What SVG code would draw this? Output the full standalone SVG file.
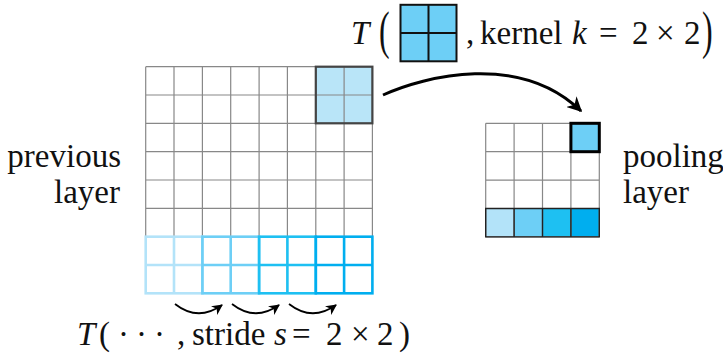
<svg xmlns="http://www.w3.org/2000/svg" width="723" height="361" viewBox="0 0 723 361">
<defs>
<style>
.g{stroke:#888;stroke-width:1.2;fill:none}
.c1{stroke:#b3e3f9}
.c2{stroke:#6dcff6}
.c3{stroke:#1ec0f2}
.c4{stroke:#00aeef}
.blk{fill:none;stroke-width:2.6}
.arr{fill:none;stroke:#000}
</style>
<marker id="ah" viewBox="0 0 10 10" refX="9" refY="5" markerWidth="5" markerHeight="5" orient="auto" markerUnits="strokeWidth">
<path d="M0,0 L10,5 L0,10 L3,5 Z" fill="#000"/>
</marker>
<marker id="ahs" viewBox="0 0 10 10" refX="9" refY="5" markerWidth="6" markerHeight="6" orient="auto" markerUnits="strokeWidth">
<path d="M0,0 L10,5 L0,10 L3,5 Z" fill="#000"/>
</marker>
</defs>
<rect width="723" height="361" fill="#fff"/>

<g id="previous-layer">
<rect x="315.8" y="66.7" width="56.7" height="56.6" fill="#b9e5f8"/>
<path class="g" d="M145.7,66.7H372.4M145.7,95H372.4M145.7,123.3H372.4M145.7,151.7H372.4M145.7,180H372.4M145.7,208.3H372.4M145.7,236.7H372.4M145.7,265H372.4M145.7,293.3H372.4
M145.7,66.7V293.3M174,66.7V293.3M202.4,66.7V293.3M230.7,66.7V293.3M259.1,66.7V293.3M287.4,66.7V293.3M315.8,66.7V293.3M344.1,66.7V293.3M372.4,66.7V293.3"/>
<rect x="315.8" y="66.7" width="56.6" height="56.6" fill="none" stroke="#444" stroke-width="2.2"/>
<g class="blk c1"><rect x="145.7" y="236.7" width="56.7" height="56.6"/><path d="M174,236.7V293.3M145.7,265H202.4"/></g>
<g class="blk c2"><rect x="202.4" y="236.7" width="56.7" height="56.6"/><path d="M230.7,236.7V293.3M202.4,265H259.1"/></g>
<g class="blk c3"><rect x="259.1" y="236.7" width="56.7" height="56.6"/><path d="M287.4,236.7V293.3M259.1,265H315.8"/></g>
<g class="blk c4"><rect x="315.8" y="236.7" width="56.6" height="56.6"/><path d="M344.1,236.7V293.3M315.8,265H372.4"/></g>
</g>

<g id="pooling-layer">
<rect x="485.7" y="208.5" width="28.4" height="28.4" fill="#b3e3f9"/>
<rect x="514.1" y="208.5" width="28.4" height="28.4" fill="#6dcff6"/>
<rect x="542.5" y="208.5" width="28.4" height="28.4" fill="#1ec0f2"/>
<rect x="570.9" y="208.5" width="28.4" height="28.4" fill="#00aeef"/>
<rect x="570.9" y="123.3" width="28.4" height="28.4" fill="#6dcff6"/>
<path class="g" d="M485.7,123.3H599.3M485.7,151.7H599.3M485.7,180.1H599.3M485.7,208.5H599.3M485.7,236.9H599.3
M485.7,123.3V236.9M514.1,123.3V236.9M542.5,123.3V236.9M570.9,123.3V236.9M599.3,123.3V236.9"/>
<path d="M485.7,208.5H599.3V236.9H485.7Z M514.1,208.5V236.9M542.5,208.5V236.9M570.9,208.5V236.9" fill="none" stroke="#222" stroke-width="1.4"/>
<rect x="570.9" y="123.3" width="28.4" height="28.4" fill="none" stroke="#000" stroke-width="3"/>
</g>

<g id="kernel-icon">
<rect x="400.5" y="4.8" width="56" height="56.5" fill="#6dcff6" stroke="#111" stroke-width="2"/>
<path d="M428.5,4.8V61.3M400.5,33H456.5" stroke="#111" stroke-width="2"/>
</g>

<g id="connectors">
<path class="arr" stroke-width="3" d="M383,95 C425,76 520,52 581,111" marker-end="url(#ah)"/>
<path class="arr" stroke-width="1.8" d="M175,304 Q198,322 222,305" marker-end="url(#ahs)"/>
<path class="arr" stroke-width="1.8" d="M232,304 Q255,322 279,305" marker-end="url(#ahs)"/>
<path class="arr" stroke-width="1.8" d="M289,304 Q312,322 336,305" marker-end="url(#ahs)"/>
</g>

<g id="labels" fill="#111">
<text font-family="Liberation Serif" font-size="33" x="121" y="167" text-anchor="end">previous</text>
<text font-family="Liberation Serif" font-size="33" x="120" y="203" text-anchor="end">layer</text>
<text font-family="Liberation Serif" font-size="33" x="623" y="167">pooling</text>
<text font-family="Liberation Serif" font-size="33" x="623" y="203">layer</text>

<text font-family="Liberation Serif" font-size="33" font-style="italic" x="351" y="44">T</text>
<text font-family="Liberation Serif" font-size="40" transform="translate(379,48) scale(0.8,1.3)">(</text>
<text font-family="Liberation Serif" font-size="33" x="466" y="44">,</text>
<text font-family="Liberation Serif" font-size="33" x="480" y="44">kernel</text>
<text font-family="Liberation Serif" font-size="33" font-style="italic" x="572" y="44">k</text>
<text font-family="Liberation Serif" font-size="33" x="599" y="44">=</text>
<text font-family="Liberation Serif" font-size="33" x="632" y="44">2</text>
<text font-family="Liberation Serif" font-size="33" x="656" y="44">×</text>
<text font-family="Liberation Serif" font-size="33" x="684" y="44">2</text>
<text font-family="Liberation Serif" font-size="40" transform="translate(702,48) scale(0.8,1.3)">)</text>

<text font-family="Liberation Serif" font-size="33" font-style="italic" x="77" y="345">T</text>
<text font-family="Liberation Serif" font-size="33" x="99" y="345">(</text>
<text font-family="Liberation Serif" font-size="33" x="118" y="345">·</text>
<text font-family="Liberation Serif" font-size="33" x="136" y="345">·</text>
<text font-family="Liberation Serif" font-size="33" x="154" y="345">·</text>
<text font-family="Liberation Serif" font-size="33" x="177" y="345">,</text>
<text font-family="Liberation Serif" font-size="33" x="192" y="345">stride</text>
<text font-family="Liberation Serif" font-size="33" font-style="italic" x="274" y="345">s</text>
<text font-family="Liberation Serif" font-size="33" x="292" y="345">=</text>
<text font-family="Liberation Serif" font-size="33" x="326" y="345">2</text>
<text font-family="Liberation Serif" font-size="33" x="351" y="345">×</text>
<text font-family="Liberation Serif" font-size="33" x="377" y="345">2</text>
<text font-family="Liberation Serif" font-size="33" x="399" y="345">)</text>
</g>
</svg>
